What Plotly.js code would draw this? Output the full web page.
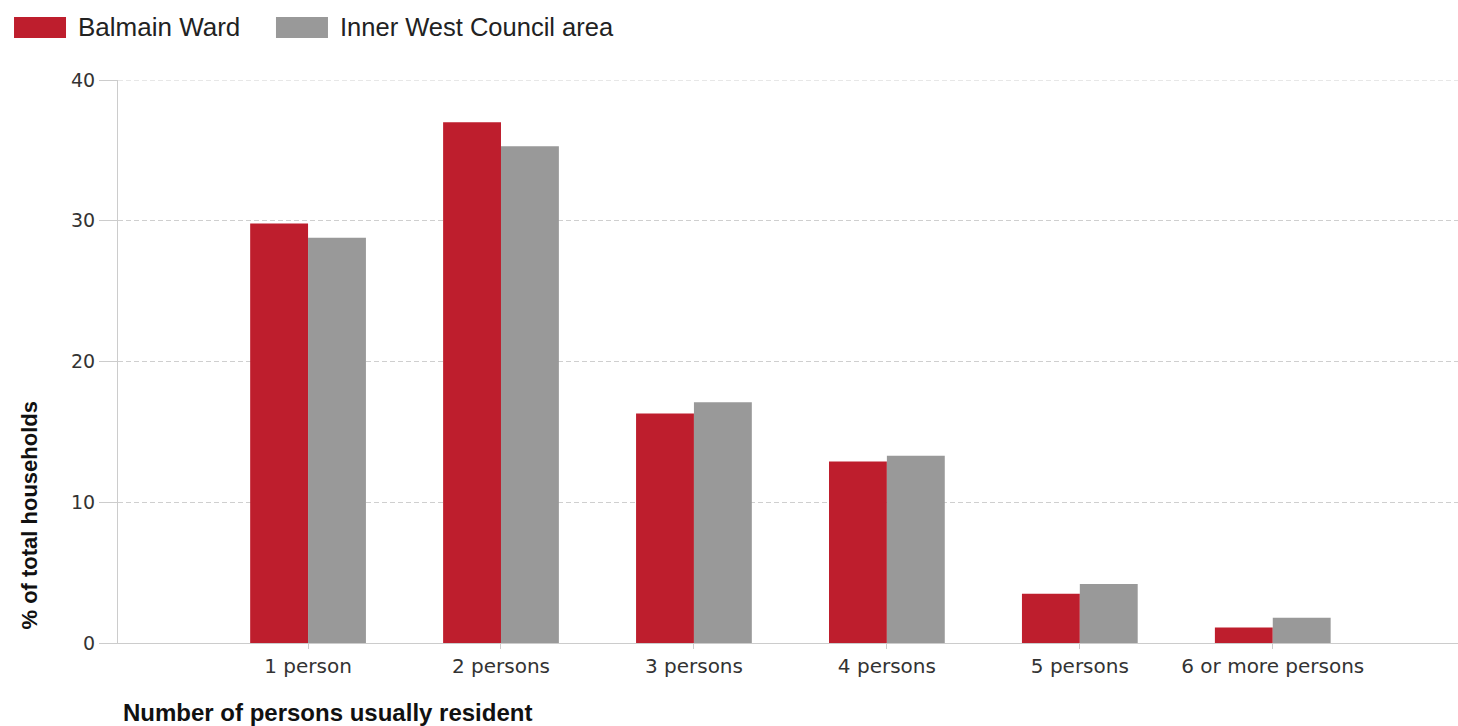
<!DOCTYPE html>
<html>
<head>
<meta charset="utf-8">
<script src="https://cdn.plot.ly/plotly-3.0.1.min.js"></script>
<style>
html,body{margin:0;padding:0;background:#fff;overflow:hidden;}
#chart{width:1458px;height:726px;}
</style>
</head>
<body>
<div id="chart"></div>
<script>
const categories = ["1 person", "2 persons", "3 persons", "4 persons", "5 persons", "6 or more persons"];
const seriesNames = ["Balmain Ward", "Inner West Council area"];
const balmainWard = [29.8, 37.0, 16.3, 12.9, 3.5, 1.1];
const innerWest = [28.8, 35.3, 17.1, 13.3, 4.2, 1.8];
const yTicks = [0, 10, 20, 30, 40];
const yTitle = "% of total households";
const xTitle = "Number of persons usually resident";

const colors = ["#BE1E2D", "#999999"];
const font = "Liberation Sans, Arial, sans-serif";
const tickFont = "DejaVu Sans, Verdana, sans-serif";
const gridColor = "#cfcfcf";

const traces = [
  {type: "bar", name: seriesNames[0], x: categories, y: balmainWard, marker: {color: colors[0]}, hoverinfo: "x+y+name"},
  {type: "bar", name: seriesNames[1], x: categories, y: innerWest, marker: {color: colors[1]}, hoverinfo: "x+y+name"}
];

const layout = {
  width: 1458, height: 726,
  margin: {l: 118, r: 0, t: 80, b: 83},
  paper_bgcolor: "#fff", plot_bgcolor: "#fff",
  showlegend: false,
  barmode: "group", bargap: 0.40, bargroupgap: 0,
  font: {family: font, color: "#333", size: 15},
  xaxis: {
    type: "category",
    range: [-0.985, 5.96],
    showgrid: false,
    showline: true, linecolor: "#cccccc", linewidth: 1,
    ticks: "outside", ticklen: 5, tickcolor: "#cccccc",
    tickfont: {family: tickFont, size: 20, color: "#333"},
    zeroline: false, fixedrange: true
  },
  yaxis: {
    range: [0, 40],
    tickvals: yTicks,
    showgrid: true, gridcolor: gridColor, griddash: "5px,3px", gridwidth: 1,
    showline: true, linecolor: "#cccccc", linewidth: 1,
    ticks: "outside", ticklen: 18, tickcolor: "#cccccc",
    tickfont: {family: tickFont, size: 19, color: "#333"},
    zeroline: false,
    fixedrange: true
  },
  shapes: [
    {type: "line", xref: "paper", yref: "y", x0: 0, x1: 1, y0: yTicks[yTicks.length - 1], y1: yTicks[yTicks.length - 1], line: {color: gridColor, width: 1, dash: "5px,3px"}, layer: "below"},
    {type: "rect", xref: "paper", yref: "paper", x0: -0.0776, x1: -0.0388, y0: 1.0746, y1: 1.1119, fillcolor: colors[0], line: {width: 0}},
    {type: "rect", xref: "paper", yref: "paper", x0: 0.1179, x1: 0.1567, y0: 1.0746, y1: 1.1119, fillcolor: colors[1], line: {width: 0}}
  ],
  annotations: [
    {text: seriesNames[0], xref: "paper", yref: "paper", x: -0.0315, y: 1.0933, xanchor: "left", yanchor: "middle", showarrow: false, font: {family: font, size: 26, color: "#222"}},
    {text: seriesNames[1], xref: "paper", yref: "paper", x: 0.164, y: 1.0933, xanchor: "left", yanchor: "middle", showarrow: false, font: {family: font, size: 25.5, color: "#222"}},
    {text: "<b>" + xTitle + "</b>", xref: "paper", yref: "paper", x: 0.002, y: -0.1226, xanchor: "left", yanchor: "middle", showarrow: false, font: {family: font, size: 24, color: "#111"}},
    {text: "<b>" + yTitle + "</b>", xref: "paper", yref: "paper", x: -0.0664, y: 0.0195, xanchor: "center", yanchor: "bottom", textangle: -90, showarrow: false, font: {family: font, size: 22, color: "#111"}}
  ]
};

Plotly.newPlot("chart", traces, layout, {displayModeBar: false});
</script>
</body>
</html>
